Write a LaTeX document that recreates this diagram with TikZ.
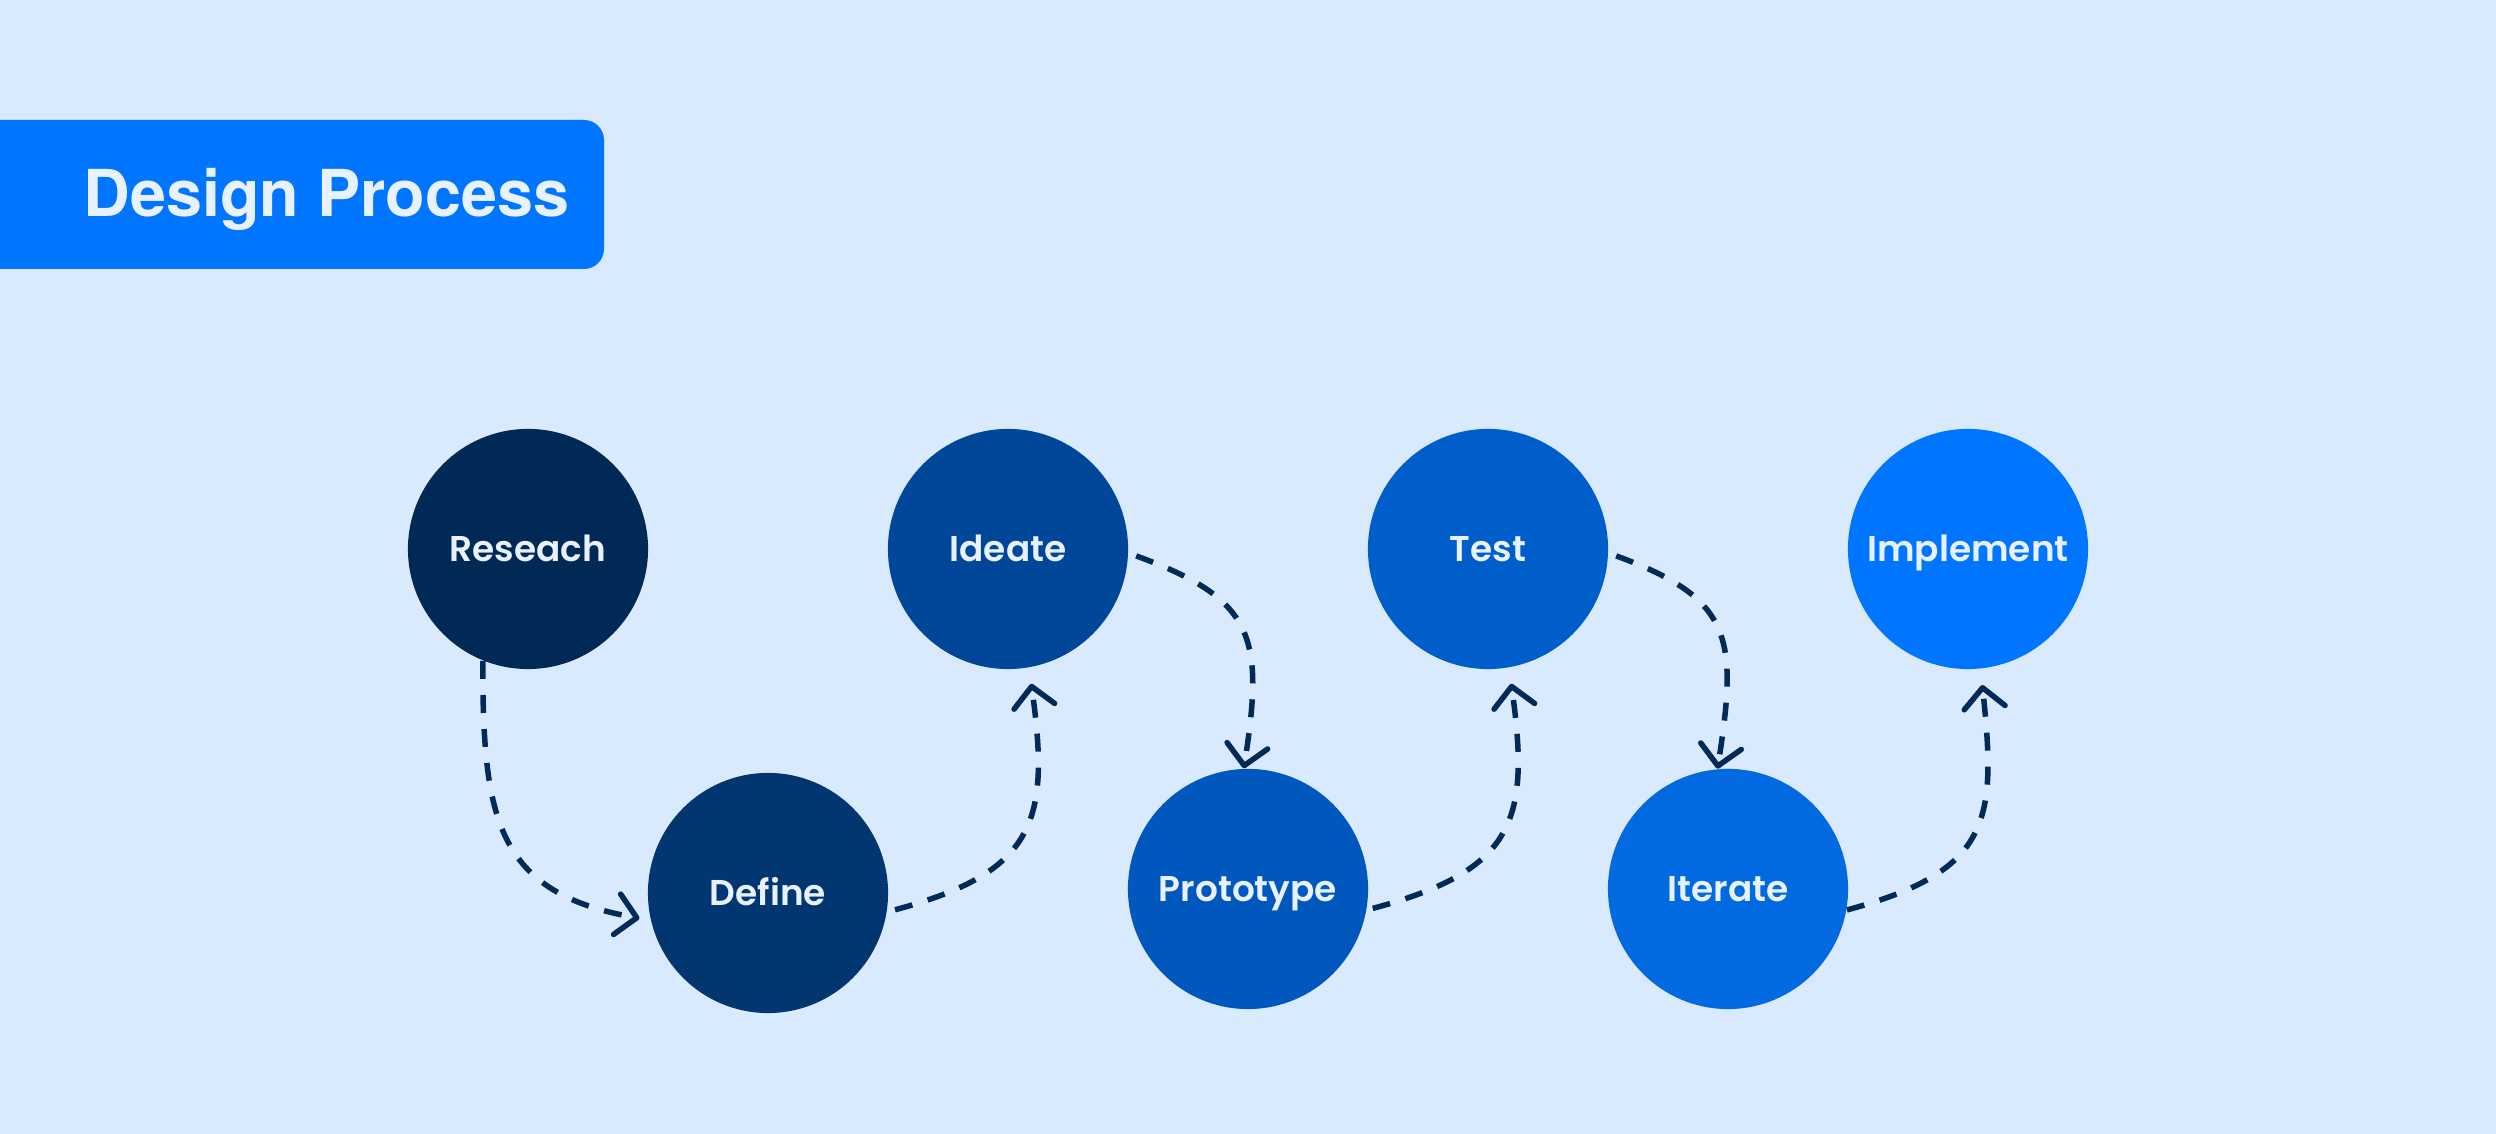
\documentclass[tikz,border=0pt]{standalone}
\usepackage{fontspec}
\setmainfont{Poppins}[UprightFont={* SemiBold}]
\newfontfamily\titlefont{TeX Gyre Heros}
\usetikzlibrary{arrows.meta}
\definecolor{bg}{HTML}{D9E9FE}
\definecolor{titlebg}{HTML}{0075FF}
\definecolor{labeltext}{HTML}{E8F1FF}
\definecolor{arrowc}{HTML}{022A57}
\definecolor{c1}{HTML}{012955}
\definecolor{c2}{HTML}{023670}
\definecolor{c3}{HTML}{004699}
\definecolor{c4}{HTML}{0057BD}
\definecolor{c5}{HTML}{005ECB}
\definecolor{c6}{HTML}{016AE1}
\definecolor{c7}{HTML}{0075FF}
\begin{document}
\begin{tikzpicture}[x=0.01cm,y=0.01cm,
  stage/.style={circle, minimum size=2.4cm, inner sep=0pt, text=labeltext,
    text height=7.1pt, text depth=0pt, font=\fontsize{10.2pt}{12pt}\selectfont},
  flow/.style={draw=arrowc, line width=0.055cm, dash pattern=on 0.18cm off 0.16cm,
    -{Straight Barb[length=0.2cm,width=0.41cm,round]}}]
\fill[bg] (0,0) rectangle (2496,1134);
\useasboundingbox (0,0) rectangle (2496,1134);
\fill[titlebg, rounded corners=0.2cm] (-60,865) rectangle (604,1014);
\node[anchor=base west, inner sep=0pt, text=labeltext,
  font=\titlefont\bfseries\fontsize{18.4pt}{21pt}\selectfont] (title) at (83,917) {Design Process};

\node[stage, fill=c1] (R) at (528,585) {Reseach};
\node[stage, fill=c2] (D) at (768,241) {Define};
\node[stage, fill=c3] (I) at (1008,585) {Ideate};
\node[stage, fill=c4] (P) at (1248,245) {Prototype};
\node[stage, fill=c5] (T) at (1488,585) {Test};
\node[stage, fill=c6] (It) at (1728,245) {Iterate};
\node[stage, fill=c7] (M) at (1968,585) {Implement};

\draw[flow, shorten >=0.11cm] (R.-112) to[out=-90,in=170,looseness=1.3] (D.193);
\draw[flow, shorten <=0.08cm, shorten >=0.16cm] (D.-9) to[out=15,in=-82,looseness=1.4] (I.-80);
\draw[flow, shorten <=0.08cm] (I.-2) to[out=-20,in=81,looseness=1.4] (P.92);
\draw[flow, shorten <=0.06cm, shorten >=0.16cm] (P.-10) to[out=15,in=-82,looseness=1.4] (T.-80);
\draw[flow, shorten <=0.08cm] (T.-2) to[out=-20,in=81,looseness=1.4] (It.95);
\draw[flow, shorten >=0.16cm] (It.-10) to[out=15,in=-84,looseness=1.4] (M.-84);
\end{tikzpicture}
\end{document}
